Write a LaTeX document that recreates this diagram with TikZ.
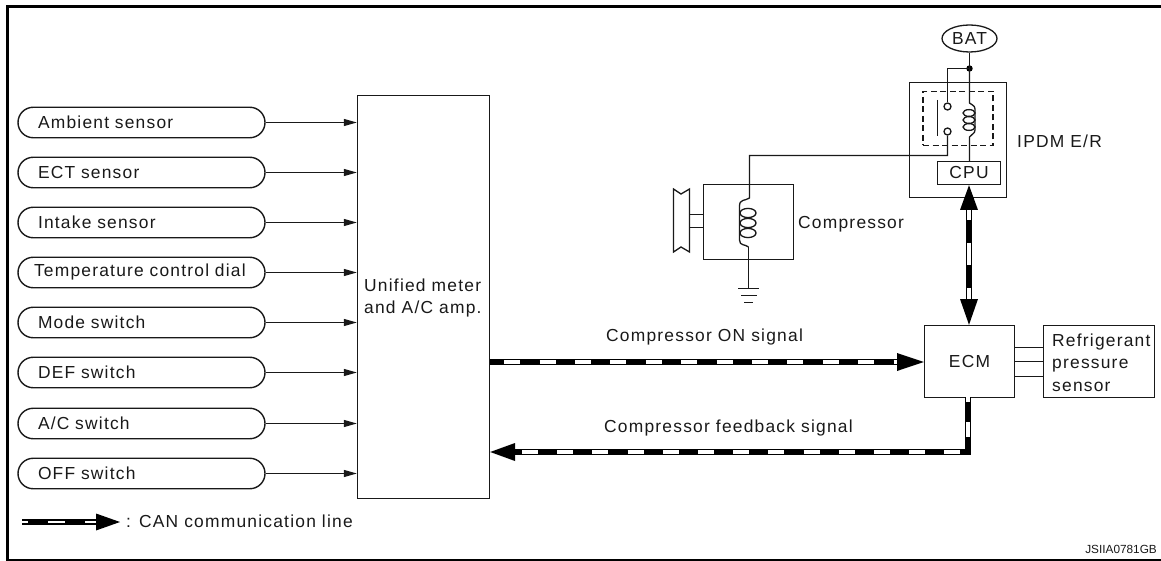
\documentclass[tikz,border=0pt]{standalone}
\usepackage{fontspec}
\setmainfont[LetterSpace=7]{Liberation Sans}
\newfontfamily\plainsans{Liberation Sans}
\usetikzlibrary{arrows.meta,shapes.geometric,shapes.misc,calc}
\tikzset{
  wire/.style={line width=1.3pt,black!90},
  boxed/.style={draw=black!90,line width=1.4pt,inner sep=0pt,fill=white},
  txt/.style={font=\fontsize{17.4}{20}\selectfont,text=black!90},
  sensor/.style={boxed,txt,rounded rectangle,minimum width=247pt,minimum height=30.5pt,text width=207pt,align=left,anchor=center},
  feed/.style={wire,-{Triangle[length=13pt,width=7pt]}},
  lab/.style={txt,inner sep=0pt},
  canblack/.style={line width=6.4pt,black,line join=miter},
  canwhite/.style={line width=3.2pt,white},
  canhead/.style={fill=black,draw=none}
}
\begin{document}
\begin{tikzpicture}[x=1pt,y=-1pt]
\useasboundingbox (0,0) rectangle (1161,561);
% frame
\coordinate (fa) at (7.5,561);
\coordinate (fb) at (7.5,6.3);
\coordinate (fc) at (1161,6.3);
\coordinate (fd) at (7.5,559.8);
\coordinate (fe) at (1161,559.8);
\draw[line width=3.3pt,black] (fa) -- (fb) -- (fc);
\draw[line width=1.5pt,black] (fd) -- (fe);
% main box
\node[boxed,minimum width=132pt,minimum height=403pt] (main) at (423.5,297) {};
\node[lab,align=left,anchor=west] (maintext) at (364,298) {Unified meter\\[2.6pt]and A/C amp.};
% sensors
\foreach \n/\y/\t in {s1/122.5/{Ambient sensor},s2/172.5/{ECT sensor},s3/222.5/{Intake sensor},s4/272.5/{\hspace*{-4pt}Temperature control dial},s5/322.5/{Mode switch},s6/372.5/{DEF switch},s7/423.5/{A/C switch},s8/473.5/{OFF switch}}{
  \node[sensor] (\n) at (141.5,\y) {\t};
  \draw[feed] (\n.east) -- (\n.east -| main.west);
}
% IPDM
\node[boxed,minimum width=97pt,minimum height=115pt] (ipdm) at (958,140) {};
\node[draw=black!90,line width=1.3pt,dash pattern=on 6pt off 3.5pt,minimum width=70pt,minimum height=54pt,inner sep=0pt] (relay) at (958,118.5) {};
\node[boxed,txt,minimum width=63pt,minimum height=23pt] (cpu) at (969,173) {CPU};
\node[draw=black!90,line width=1.3pt,ellipse,minimum width=55pt,minimum height=27pt,inner sep=0pt,txt] (bat) at (969.5,38.5) {BAT};
\node[lab,anchor=west] (ipdmtext) at (1017,141) {IPDM E/R};
\coordinate (jn) at (969.5,68.5);
\fill[black] (jn) circle (3.2pt);
\node[draw=black!90,line width=1.3pt,circle,minimum size=7pt,inner sep=0pt] (c1) at (947.5,106.5) {};
\node[draw=black!90,line width=1.3pt,circle,minimum size=7pt,inner sep=0pt] (c2) at (947.5,131.5) {};
\draw[wire] (bat.south) -- (jn);
\draw[wire] (jn) -| (c1.north);
% switch bar
\coordinate (sba) at (937.5,100);
\coordinate (sbb) at (937.5,136);
\draw[wire] (sba) -- (sbb);
% relay coil
\coordinate (rca) at (969.5,103);
\coordinate (rcb) at (969.5,137);
\draw[wire] (jn) -- (rca) .. controls (971,105) and (975,105) .. (975,109) -- (975,130) .. controls (975,134) and (971,134) .. (rcb) -- (rcb |- cpu.north);
\foreach \y in {113,120,127}{\draw[wire] (969,\y) ellipse [x radius=6,y radius=3.4];}
% compressor
\node[boxed,minimum width=90pt,minimum height=75pt] (comp) at (748.5,222) {};
\node[lab,anchor=west] (comptext) at (798,224.5) {Compressor};
\coordinate (cta) at (749.5,198);
\coordinate (ctb) at (748.5,247);
\draw[wire] (c2.south) |- (749.5,155.5) -- (comp.north -| cta) -- (cta) .. controls (745,201) and (739.5,199) .. (739.5,206) -- (739.5,240) .. controls (739.5,246) and (745,244) .. (ctb);
\foreach \y in {213,223,233}{\draw[wire] (748,\y) ellipse [x radius=8,y radius=4.6];}
\coordinate (gnd) at (748.5,288.5);
\draw[wire] (ctb) -- (gnd);
\coordinate (g1a) at (738,288.5); \coordinate (g1b) at (759,288.5);
\coordinate (g2a) at (741,295.5); \coordinate (g2b) at (757,295.5);
\coordinate (g3a) at (744,302.5); \coordinate (g3b) at (753,302.5);
\draw[wire] (g1a) -- (g1b);
\draw[wire] (g2a) -- (g2b);
\draw[wire] (g3a) -- (g3b);
% pulley
\coordinate (p1) at (673.5,189); \coordinate (p2) at (681,194); \coordinate (p3) at (689.5,189);
\coordinate (p4) at (689.5,252); \coordinate (p5) at (681,247); \coordinate (p6) at (673.5,252);
\draw[wire] (p1) -- (p2) -- (p3) -- (p4) -- (p5) -- (p6) -- cycle;
\coordinate (sa) at (689,214.5); \coordinate (sb) at (689,227.5);
\draw[wire] (sa) -- (sa -| comp.west);
\draw[wire] (sb) -- (sb -| comp.west);
% ECM
\node[boxed,txt,minimum width=90pt,minimum height=72pt] (ecm) at (969.5,361.5) {ECM};
\node[boxed,minimum width=111pt,minimum height=72pt] (ref) at (1099,361.5) {};
\node[lab,align=left,anchor=west] (reftext) at (1052,362.5) {Refrigerant\\[2.6pt]pressure\\[2.6pt]sensor};
\coordinate (el1) at (1014,347.5); \coordinate (el2) at (1014,361.5); \coordinate (el3) at (1014,376.5);
\draw[wire] (el1) -- (el1 -| ref.west);
\draw[wire] (el2) -- (el2 -| ref.west);
\draw[wire] (el3) -- (el3 -| ref.west);
% CAN: ON signal
\coordinate (on) at (main.east |- 0,362);
\coordinate (onb) at (897,362);
\draw[canblack] (on) -- (onb);
\draw[canwhite,dash pattern=on 16pt off 19.4pt,dash phase=-14pt] (on) -- (onb);
\fill[canhead] (ecm.west |- onb) -- (897,353) -- (897,371) -- cycle;
\node[lab,anchor=west] (ontext) at (606,337.5) {Compressor ON signal};
% CAN: feedback
\coordinate (fbs) at (968,397);
\coordinate (fbc) at (968,452);
\coordinate (fbe) at (515,452);
\coordinate (fbw) at (968,437);
\draw[canblack] (fbe) -- (fbc) -- (fbs);
\draw[canwhite,dash pattern=on 16pt off 19.2pt,dash phase=-7pt] (fbe) -- (fbc);
\draw[canwhite,dash pattern=on 15pt off 20pt] (fbw) -- (fbs);
\fill[canhead] (main.east |- fbe) -- (515,443) -- (515,461) -- cycle;
\node[lab,anchor=west] (fbtext) at (604,427.5) {Compressor feedback signal};
% CAN: IPDM-ECM
\coordinate (vt) at (969,209);
\coordinate (vb) at (969,300);
\draw[canblack,line width=5.8pt] (vt) -- (vb);
\draw[canwhite,line width=3.6pt,dash pattern=on 22pt off 23pt,dash phase=11pt] (vt) -- (vb);
\fill[canhead] (cpu.south -| vt) -- (960,210) -- (978,210) -- cycle;
\fill[canhead] (ecm.north -| vb) -- (960,299) -- (978,299) -- cycle;
% legend
\coordinate (la) at (22,522);
\coordinate (lb) at (96,522);
\coordinate (lt) at (120,522);
\draw[canblack,line width=6pt] (la) -- (lb);
\draw[canwhite,line width=2.6pt,dash pattern=on 6pt off 20pt on 17pt off 20pt on 11pt off 99pt] (la) -- (lb);
\fill[canhead] (lt) -- (96,513.5) -- (96,530.5) -- cycle;
\node[lab,anchor=west] (legend) at (126,521) {: CAN communication line};
% code
\node[inner sep=0pt,anchor=east,font=\plainsans\fontsize{11.8}{14}\selectfont,text=black!90] (code) at (1157,549) {JSIIA0781GB};
\end{tikzpicture}
\end{document}
